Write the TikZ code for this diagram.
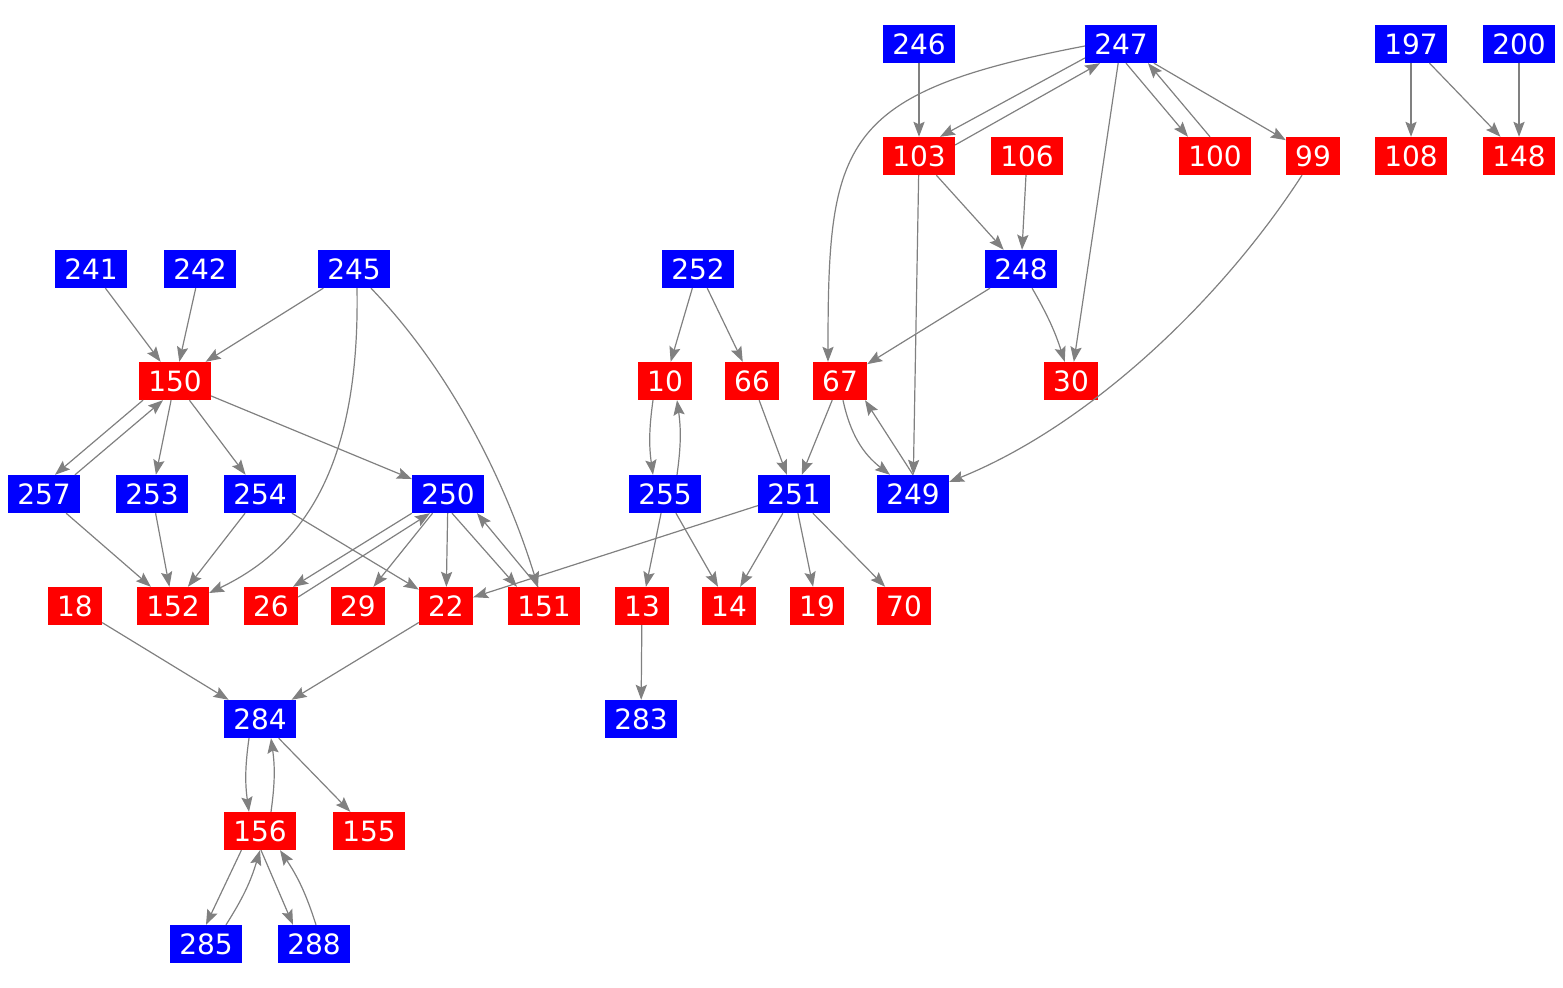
\documentclass[tikz,border=0pt]{standalone}
\usepackage{fontspec}
\setmainfont{DejaVu Sans}
\usetikzlibrary{arrows.meta}

\begin{document}
\begin{tikzpicture}[x=0.5pt,y=-0.5pt,
   vb/.style={fill=blue,text=white,inner xsep=4.5pt,inner ysep=0pt,
      minimum height=18.8pt,text height=10.2pt,text depth=0pt,
      font=\fontsize{14}{16}\selectfont},
   vr/.style={vb,fill=red},
   ed/.style={draw=gray,line width=0.6pt,
      -{Stealth[length=7.5pt,width=5.6pt,inset=1.3pt]}}]
   \useasboundingbox (0,0) rectangle (1563,988);
   \node[vb] (v246) at (919,44) {246};
   \node[vb] (v247) at (1121,44) {247};
   \node[vb] (v197) at (1411,44) {197};
   \node[vb] (v200) at (1519,44) {200};
   \node[vr] (v103) at (919,156) {103};
   \node[vr] (v106) at (1027,156) {106};
   \node[vr] (v100) at (1215,156) {100};
   \node[vr] (v99) at (1313,156) {99};
   \node[vr] (v108) at (1411,156) {108};
   \node[vr] (v148) at (1519,156) {148};
   \node[vb] (v241) at (91,269) {241};
   \node[vb] (v242) at (200,269) {242};
   \node[vb] (v245) at (354,269) {245};
   \node[vb] (v252) at (698,269) {252};
   \node[vb] (v248) at (1021,269) {248};
   \node[vr] (v150) at (175,381) {150};
   \node[vr] (v10) at (665,381) {10};
   \node[vr] (v66) at (752,381) {66};
   \node[vr] (v67) at (840,381) {67};
   \node[vr] (v30) at (1071,381) {30};
   \node[vb] (v257) at (44,494) {257};
   \node[vb] (v253) at (152,494) {253};
   \node[vb] (v254) at (260,494) {254};
   \node[vb] (v250) at (448,494) {250};
   \node[vb] (v255) at (665,494) {255};
   \node[vb] (v251) at (794,494) {251};
   \node[vb] (v249) at (913,494) {249};
   \node[vr] (v18) at (75,606) {18};
   \node[vr] (v152) at (173,606) {152};
   \node[vr] (v26) at (271,606) {26};
   \node[vr] (v29) at (358,606) {29};
   \node[vr] (v22) at (446,606) {22};
   \node[vr] (v151) at (544,606) {151};
   \node[vr] (v13) at (642,606) {13};
   \node[vr] (v14) at (729,606) {14};
   \node[vr] (v19) at (817,606) {19};
   \node[vr] (v70) at (904,606) {70};
   \node[vb] (v284) at (260,719) {284};
   \node[vb] (v283) at (641,719) {283};
   \node[vr] (v156) at (260,831) {156};
   \node[vr] (v155) at (369,831) {155};
   \node[vb] (v285) at (206,944) {285};
   \node[vb] (v288) at (314,944) {288};

   \draw[ed] (v246) -- (v103);
   \draw[ed] ([yshift=-7pt]v247.west) -- ([xshift=10.5pt]v103.north);
   \draw[ed] ([yshift=5.5pt]v103.east) -- ([xshift=-10.5pt]v247.south);
   \draw[ed] ([yshift=-1pt]v247.west) .. controls (839,93) and (828,142) .. ([xshift=-6pt]v67.north);
   \draw[ed] (v247) -- (v30);
   \draw[ed] ([xshift=2.5pt]v247.south) -- ([xshift=-13.5pt]v100.north);
   \draw[ed] ([xshift=-2.5pt]v100.north) -- ([xshift=13.5pt]v247.south);
   \draw[ed] (v247) -- (v99);
   \draw[ed] (v197) -- (v108);
   \draw[ed] (v197) -- (v148);
   \draw[ed] (v200) -- (v148);
   \draw[ed] (v103) -- (v248);
   \draw[ed] (v103) -- (v249);
   \draw[ed] (v106) -- (v248);
   \draw[ed] ([xshift=-5.5pt]v99.south) .. controls (1220,302) and (1088,426) .. ([yshift=6pt]v249.east);
   \draw[ed] (v241) -- (v150);
   \draw[ed] (v242) -- (v150);
   \draw[ed] (v245) -- (v150);
   \draw[ed] ([xshift=1.5pt]v245.south) .. controls (360,460) and (308,546) .. ([yshift=6.5pt]v152.east);
   \draw[ed] ([xshift=8.5pt]v245.south) .. controls (450,370) and (505,480) .. ([xshift=-3pt]v151.north);
   \draw[ed] (v252) -- (v10);
   \draw[ed] (v252) -- (v66);
   \draw[ed] (v248) -- (v67);
   \draw[ed] (v248) to[bend left=6] (v30);
   \draw[ed] ([xshift=-16pt]v150.south) -- ([xshift=5.5pt]v257.north);
   \draw[ed] ([xshift=15.5pt]v257.north) -- ([xshift=-6pt]v150.south);
   \draw[ed] (v150) -- (v253);
   \draw[ed] (v150) -- (v254);
   \draw[ed] (v150) -- (v250);
   \draw[ed] ([xshift=-6pt]v10.south) to[bend right=8] ([xshift=-6pt]v255.north);
   \draw[ed] ([xshift=6pt]v255.north) to[bend right=8] ([xshift=6pt]v10.south);
   \draw[ed] (v66) -- (v251);
   \draw[ed] (v67) -- (v251);
   \draw[ed] ([xshift=1.5pt]v67.south) to[bend right=20] ([xshift=-11.5pt]v249.north);
   \draw[ed] (v249.north) -- ([xshift=12.5pt]v67.south);
   \draw[ed] (v257) -- (v152);
   \draw[ed] (v253) -- (v152);
   \draw[ed] (v254) -- (v152);
   \draw[ed] (v254) -- (v22);
   \draw[ed] (v250.south west) -- ([xshift=11pt]v26.north);
   \draw[ed] ([yshift=4.5pt]v26.east) -- ([xshift=-9pt]v250.south);
   \draw[ed] (v250) -- (v29);
   \draw[ed] (v250) -- (v22);
   \draw[ed] ([xshift=2pt]v250.south) -- ([xshift=-13.5pt]v151.north);
   \draw[ed] ([xshift=-3pt]v151.north) -- ([xshift=14.5pt]v250.south);
   \draw[ed] (v255) -- (v13);
   \draw[ed] (v255) -- (v14);
   \draw[ed] (v251) -- (v22);
   \draw[ed] (v251) -- (v14);
   \draw[ed] (v251) -- (v19);
   \draw[ed] (v251) -- (v70);
   \draw[ed] (v18) -- (v284);
   \draw[ed] (v22) -- (v284);
   \draw[ed] (v13) -- (v283);
   \draw[ed] ([xshift=-5.5pt]v284.south) to[bend right=8] ([xshift=-5.5pt]v156.north);
   \draw[ed] ([xshift=5.5pt]v156.north) to[bend right=8] ([xshift=5.5pt]v284.south);
   \draw[ed] (v284) -- (v155);
   \draw[ed] ([xshift=-9.3pt]v156.south) -- (v285.north);
   \draw[ed] ([xshift=10pt]v285.north) to[bend right=8] (v156.south);
   \draw[ed] ([xshift=0.5pt]v156.south) -- ([xshift=-10.5pt]v288.north);
   \draw[ed] ([xshift=1pt]v288.north) to[bend right=8] ([xshift=10pt]v156.south);
\end{tikzpicture}
\end{document}
